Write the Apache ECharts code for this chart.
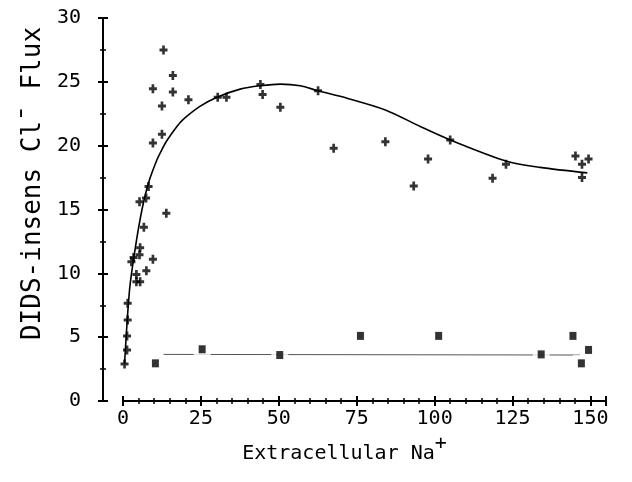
<!DOCTYPE html>
<html>
<head>
<meta charset="utf-8">
<script src="https://cdn.jsdelivr.net/npm/echarts@6/dist/echarts.min.js"></script>
<style>
html,body{margin:0;padding:0;background:#fff;}
#chart{width:632px;height:482px;}
</style>
</head>
<body>
<div id="chart"></div>
<script>
// Data
const crossX = [0.5,1.3,1.3,1.5,1.5,2.7,3.4,4.3,4.3,5.5,5.3,5.5,7.5,9.6,6.7,13.9,5.3,7.4,8.2,9.6,12.5,12.5,9.6,16.0,16.0,13.0,21.0,30.4,33.2,44.1,44.8,50.5,62.6,67.6,84.2,93.3,97.9,105.0,118.6,122.9,145.2,147.3,149.4,147.3];
const crossY = [2.9,4.0,5.1,6.35,7.65,10.9,11.25,9.9,9.35,9.35,11.45,12.0,10.2,11.1,13.6,14.7,15.6,15.9,16.8,20.2,20.9,23.1,24.45,24.2,25.5,27.5,23.6,23.8,23.8,24.8,24.0,23.0,24.3,19.8,20.3,16.85,18.95,20.45,17.45,18.55,19.2,18.55,18.95,17.5];

const squareX = [10.4,25.4,50.3,76.2,101.3,134.2,144.4,149.4,147.1];
const squareY = [2.95,4.05,3.6,5.1,5.1,3.65,5.1,4.0,2.95];

const curveX = [0.5,2.1,3.95,6.1,8.2,10.9,12.5,14.1,17.3,19.5,24.8,30.2,37.6,44.1,50.5,56.9,62.6,71.9,84.2,95.4,105.0,122.9,133.8,149.0];
const curveY = [2.9,8.7,12.0,15.0,17.1,18.9,19.7,20.4,21.5,22.1,23.1,23.8,24.43,24.69,24.82,24.69,24.3,23.72,22.8,21.5,20.45,18.8,18.3,17.87];

const flatX = [13.0,146.8];
const flatY = [3.65,3.6];

const xTicks = {min: 0, max: 155, interval: 25};
const yTicks = {min: 0, max: 30, interval: 5};

const xName = 'Extracellular Na';
const yName = 'DIDS-insens Cl\u00AF Flux';

function zip(a, b){ return a.map((v,i)=>[v,b[i]]); }

const FONT = 'DejaVu Sans Mono';
const plusPath = 'path://M3,0h3v3h3v3h-3v3h-3v-3h-3v-3h3z';

function xAxisCfg(inside, main){
  return {
    type:'value', min:xTicks.min, max:xTicks.max, interval:xTicks.interval,
    position:'bottom', gridIndex:0,
    axisLine:{show:true, onZero:false, lineStyle:{color:'#000', width:2}},
    axisTick:{show:true, inside:inside, length:5, lineStyle:{color:'#000', width:2}},
    minorTick:{show:true, splitNumber:5, length:3, lineStyle:{color:'#000', width:1.5}},
    splitLine:{show:false}, minorSplitLine:{show:false},
    axisLabel:{show:main, color:'#000', fontFamily:FONT, fontSize:20, margin:8, showMaxLabel:false},
    name: main ? xName + '{sup|+}' : '',
    nameLocation:'middle', nameGap:32,
    nameTextStyle:{color:'#000', fontFamily:FONT, fontSize:20, lineHeight:40, padding:[0,40,0,0],
      rich:{sup:{color:'#000', fontFamily:FONT, fontSize:20, lineHeight:14, verticalAlign:'top'}}}
  };
}
function yAxisCfg(inside, main){
  return {
    type:'value', min:yTicks.min, max:yTicks.max, interval:yTicks.interval,
    position:'left', offset:20, gridIndex:0,
    axisLine:{show:true, onZero:false, lineStyle:{color:'#000', width:2}},
    axisTick:{show:true, inside:inside, length:5, lineStyle:{color:'#000', width:2}},
    minorTick:{show:true, splitNumber:2, length:3, lineStyle:{color:'#000', width:1.5}},
    splitLine:{show:false}, minorSplitLine:{show:false},
    axisLabel:{show:main, color:'#000', fontFamily:FONT, fontSize:20, margin:22},
    name: main ? yName : '',
    nameLocation:'middle', nameGap:57, nameRotate:90,
    nameTextStyle:{color:'#000', fontFamily:FONT, fontSize:26, padding:[0,0,0,52]}
  };
}

const chart = echarts.init(document.getElementById('chart'), null, {renderer:'canvas'});
chart.setOption({
  animation:false,
  backgroundColor:'#fff',
  grid:{left:123, right:26, top:18, bottom:81, containLabel:false, outerBoundsMode:'none'},
  xAxis:[xAxisCfg(false,true), xAxisCfg(true,false)],
  yAxis:[yAxisCfg(false,true), yAxisCfg(true,false)],
  series:[
    {type:'line', data:zip(curveX,curveY), showSymbol:false, smooth:0.3,
     lineStyle:{color:'#000', width:1.6}, z:2},
    {type:'line', data:zip(flatX,flatY), showSymbol:false,
     lineStyle:{color:'#555', width:1}, z:2},
    {type:'scatter', data:zip(squareX,squareY), symbol:'rect', symbolSize:17,
     itemStyle:{color:'#fff'}, z:3, silent:true},
    {type:'scatter', data:zip(squareX,squareY), symbol:'rect', symbolSize:[7,8],
     itemStyle:{color:'#000'}, z:4},
    {type:'scatter', data:zip(crossX,crossY), symbol:plusPath, symbolSize:[8,9],
     itemStyle:{color:'#000'}, z:5},
    {type:'scatter', xAxisIndex:1, yAxisIndex:1, data:[], silent:true}
  ]
});
</script>
</body>
</html>
